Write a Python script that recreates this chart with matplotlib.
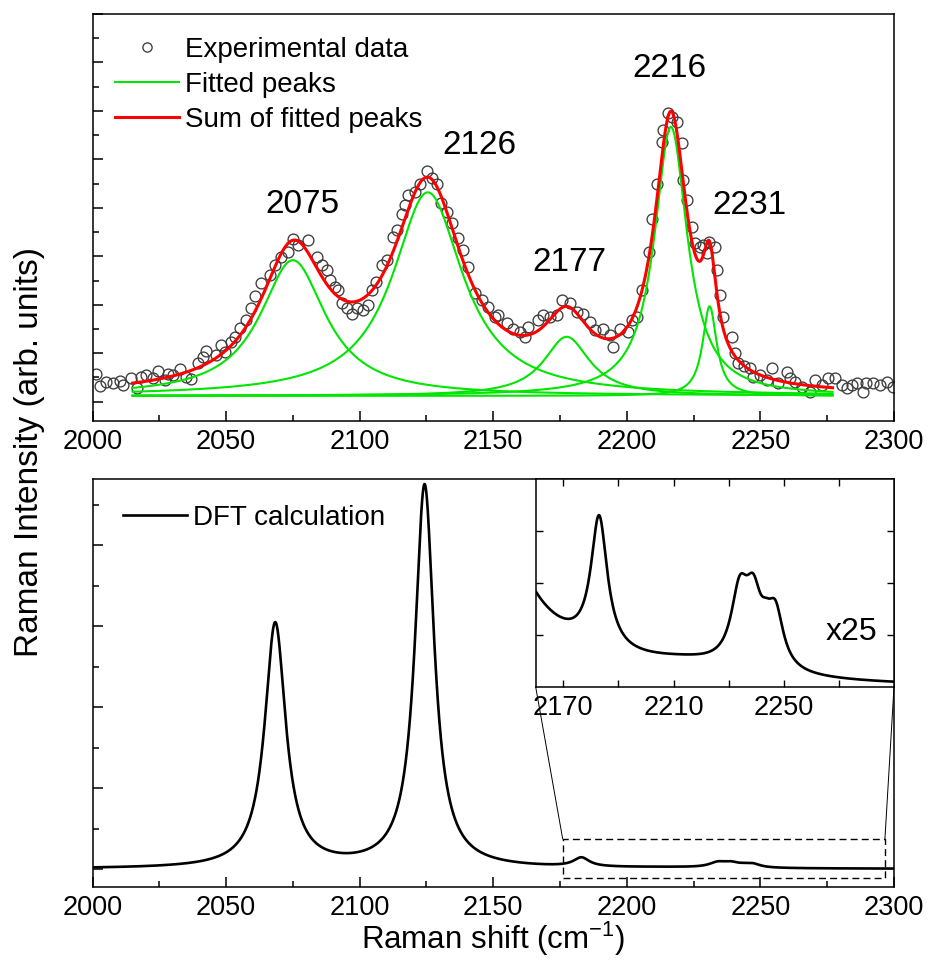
import numpy as np
import matplotlib
matplotlib.use("Agg")
import matplotlib.pyplot as plt
from matplotlib.ticker import MultipleLocator, NullFormatter, FixedLocator
from matplotlib.patches import ConnectionPatch

plt.rcParams['font.family'] = ['Liberation Sans', 'DejaVu Sans']
plt.rcParams['mathtext.fontset'] = 'custom'
plt.rcParams['mathtext.rm'] = 'Liberation Sans'
plt.rcParams['mathtext.it'] = 'Liberation Sans:italic'
plt.rcParams['axes.linewidth'] = 1.1

# ---------------- data: experimental spectrum (top panel) ----------------
exp_shift = [2001.4, 2002.7, 2005.2, 2007.7, 2010.2, 2011.4, 2014.5, 2016.8, 2018.3, 2020.1,
             2022.6, 2024.5, 2027.0, 2028.3, 2030.1, 2032.6, 2035.1, 2037.0, 2039.5, 2041.4,
             2042.6, 2046.3, 2048.2, 2049.5, 2051.9, 2053.2, 2055.1, 2057.6, 2059.4, 2060.7,
             2063.2, 2066.3, 2068.2, 2070.7, 2073.2, 2075.0, 2077.0, 2080.8, 2083.9, 2085.8,
             2087.6, 2088.9, 2090.8, 2092.0, 2093.3, 2095.1, 2097.0, 2098.9, 2101.3, 2103.2,
             2104.5, 2106.3, 2108.2, 2110.1, 2112.6, 2113.8, 2115.7, 2117.0, 2118.2, 2120.7,
             2122.6, 2125.1, 2127.0, 2128.8, 2130.5, 2132.6, 2134.4, 2136.9, 2138.8, 2140.6,
             2143.2, 2145.7, 2148.1, 2150.6, 2151.9, 2155.0, 2157.5, 2160.0, 2161.9, 2163.1,
             2166.8, 2168.7, 2171.2, 2173.7, 2175.6, 2178.7, 2181.2, 2183.7, 2186.2, 2188.0,
             2191.2, 2193.7, 2194.9, 2197.4, 2200.5, 2201.8, 2203.7, 2205.5, 2208.3, 2209.3,
             2211.2, 2213.0, 2213.6, 2215.3, 2216.8, 2218.6, 2220.5, 2221.1, 2222.4, 2224.3,
             2225.5, 2227.4, 2228.6, 2229.9, 2230.8, 2233.0, 2233.6, 2234.9, 2236.1, 2239.2,
             2240.5, 2241.7, 2244.0, 2246.1, 2247.3, 2249.8, 2252.3, 2254.2, 2256.7, 2259.8,
             2261.0, 2262.9, 2265.4, 2268.5, 2270.4, 2272.9, 2275.4, 2277.9, 2280.4, 2282.3,
             2284.1, 2286.0, 2288.5, 2289.7, 2292.2, 2294.7, 2297.2, 2299.5]
exp_intensity = [0.57, 0.32, 0.41, 0.38, 0.43, 0.34, 0.48, 0.28, 0.52, 0.56,
                 0.48, 0.64, 0.45, 0.58, 0.55, 0.67, 0.52, 0.46, 0.79, 0.93,
                 1.05, 0.96, 1.17, 1.03, 1.24, 1.34, 1.53, 1.68, 1.93, 2.18,
                 2.44, 2.61, 2.82, 2.99, 3.09, 3.35, 3.23, 3.33, 2.98, 2.82,
                 2.72, 2.51, 2.37, 2.30, 2.03, 1.93, 1.82, 1.93, 1.89, 1.99,
                 2.30, 2.47, 2.82, 2.92, 3.39, 3.54, 3.88, 4.06, 4.26, 4.33,
                 4.50, 4.76, 4.61, 4.50, 4.09, 3.92, 3.68, 3.37, 3.13, 2.78,
                 2.24, 2.10, 1.96, 1.75, 1.79, 1.62, 1.51, 1.44, 1.34, 1.55,
                 1.68, 1.79, 1.75, 1.79, 2.10, 2.03, 1.86, 1.82, 1.65, 1.48,
                 1.51, 1.38, 1.13, 1.51, 1.44, 1.68, 1.75, 2.30, 3.09, 3.78,
                 4.50, 5.36, 5.60, 5.96, 5.88, 5.77, 5.33, 4.57, 4.16, 3.61,
                 3.27, 3.20, 3.23, 3.06, 3.30, 3.20, 2.72, 2.20, 1.75, 1.34,
                 1.00, 0.79, 0.74, 0.69, 0.52, 0.55, 0.45, 0.69, 0.38, 0.62,
                 0.48, 0.41, 0.31, 0.21, 0.45, 0.34, 0.48, 0.48, 0.34, 0.28,
                 0.34, 0.38, 0.21, 0.38, 0.38, 0.34, 0.41, 0.31]

# fitted Lorentzian peaks (centre, height, half width) and constant background
fit_centers = [2075.0, 2125.5, 2177.5, 2216.5, 2231.0]
fit_heights = [2.80, 4.20, 1.22, 5.55, 1.85]
fit_hwhm = [15.0, 16.0, 10.5, 7.5, 3.2]
fit_background = 0.12
fit_start, fit_end = 2015.0, 2277.0
peak_labels = ["2075", "2126", "2177", "2216", "2231"]
peak_label_x = [2078.6, 2145.0, 2178.4, 2215.8, 2246.0]
peak_label_y = [3.90, 5.12, 2.70, 6.69, 3.88]

# DFT calculated spectrum: Lorentzian-broadened lines (centre, height, half width)
dft_centers = [2068.4, 2124.3, 2183.0, 2215.0, 2234.0, 2239.0, 2243.5, 2247.0]
dft_heights = [3.02, 4.73, 0.110, 0.010, 0.058, 0.050, 0.014, 0.045]
dft_hwhm = [4.75, 4.35, 3.6, 25.0, 3.8, 3.5, 2.5, 3.5]
inset_factor = 25
zoom_box_x = (2176.0, 2296.6)
zoom_box_y = (-0.107, 0.37)

x_ticks = [2000, 2050, 2100, 2150, 2200, 2250, 2300]
inset_ticks = [2170, 2210, 2250]


def lorentz(x, c, h, w):
    return h / (1.0 + ((x - c) / w) ** 2)


GREEN = '#00e600'
RED = '#ff0000'

fig = plt.figure(figsize=(9.3, 9.6), dpi=100)
W, H = 930.0, 960.0


def rect(l, t, r, b):
    return [l / W, 1 - b / H, (r - l) / W, (b - t) / H]


ax1 = fig.add_axes(rect(92.5, 14, 894, 421))
ax2 = fig.add_axes(rect(92.5, 479, 894, 887))
ax3 = fig.add_axes(rect(535.7, 479, 894, 687))

# ---------------- top panel ----------------
xf = np.linspace(fit_start, fit_end, 1500)
ax1.plot(exp_shift, exp_intensity, 'o', ms=7.8, mfc='none', mec='#3c3c3c', mew=0.95,
         label='Experimental data', zorder=2)
total = np.full_like(xf, fit_background)
for i, (c, h, w) in enumerate(zip(fit_centers, fit_heights, fit_hwhm)):
    yy = lorentz(xf, c, h, w)
    total += yy
    ax1.plot(xf, yy + fit_background, color=GREEN, lw=1.5, zorder=3,
             label='Fitted peaks' if i == 0 else None)
ax1.plot(xf, total, color=RED, lw=2.2, zorder=4, label='Sum of fitted peaks')
for t, x, y in zip(peak_labels, peak_label_x, peak_label_y):
    ax1.text(x, y, t, fontsize=24, ha='center', va='baseline')

ax1.set_xlim(2000, 2300)
ax1.set_ylim(-0.398, 8.0)
ax1.xaxis.set_major_locator(FixedLocator(x_ticks))
ax1.xaxis.set_minor_locator(MultipleLocator(25))
ax1.yaxis.set_major_locator(MultipleLocator(1))
ax1.yaxis.set_minor_locator(MultipleLocator(0.5))
ax1.yaxis.set_major_formatter(NullFormatter())
ax1.legend(loc='upper left', bbox_to_anchor=(0.028, 0.943), frameon=False, fontsize=20,
           handlelength=2.3, handletextpad=0.23, labelspacing=0.32, borderpad=0,
           borderaxespad=0, numpoints=1, markerscale=0.85)

# ---------------- bottom panel ----------------
xd = np.linspace(2000, 2300, 6001)
dft = np.zeros_like(xd)
for c, h, w in zip(dft_centers, dft_heights, dft_hwhm):
    dft += lorentz(xd, c, h, w)
ax2.plot(xd, dft, color='black', lw=1.9, label='DFT calculation')
ax2.set_xlim(2000, 2300)
ax2.set_ylim(-0.222, 4.815)
ax2.xaxis.set_major_locator(FixedLocator(x_ticks))
ax2.xaxis.set_minor_locator(MultipleLocator(25))
ax2.yaxis.set_major_locator(MultipleLocator(1))
ax2.yaxis.set_minor_locator(MultipleLocator(0.5))
ax2.yaxis.set_major_formatter(NullFormatter())
ax2.legend(loc='upper left', bbox_to_anchor=(0.0377, 0.936), frameon=False, fontsize=20,
           handlelength=2.3, handletextpad=0.23, borderpad=0, borderaxespad=0)

# zoom rectangle
bx0, bx1 = zoom_box_x
by0, by1 = zoom_box_y
ax2.plot([bx0, bx1, bx1, bx0, bx0], [by0, by0, by1, by1, by0], color='black', lw=1.0,
         ls=(0, (5, 3)))

for ax in (ax1, ax2):
    ax.tick_params(which='both', direction='in', top=False, right=False,
                   labelsize=19.5, pad=6, width=1.1)
    ax.tick_params(which='major', length=7)
    ax.tick_params(which='minor', length=4)

# ---------------- inset ----------------
xi = np.linspace(2160, 2290, 2000)
dfi = np.zeros_like(xi)
for c, h, w in zip(dft_centers, dft_heights, dft_hwhm):
    dfi += lorentz(xi, c, h, w)
ax3.plot(xi, inset_factor * dfi, color='black', lw=1.9)
ax3.set_xlim(2160, 2290)
ylo, yhi = 0.054, 4.39
ax3.set_ylim(ylo, yhi)
ax3.xaxis.set_major_locator(FixedLocator(inset_ticks))
ax3.xaxis.set_minor_locator(FixedLocator([2190, 2230, 2270]))
ax3.yaxis.set_major_locator(FixedLocator(np.linspace(ylo, yhi, 5)[1:-1]))
ax3.yaxis.set_major_formatter(NullFormatter())
ax3.tick_params(which='both', direction='in', top=True, right=True, left=True, bottom=True,
                length=5, width=1.0, labelsize=19.5, pad=6)
ax3.text(2274.5, 1.03, 'x25', fontsize=23, ha='center', va='baseline')

# connector lines between zoom box and inset
for (xa, ya), (xb, yb) in [((bx0, by1), (2160, ylo)), ((bx1, by1), (2290, ylo))]:
    con = ConnectionPatch(xyA=(xa, ya), coordsA=ax2.transData,
                          xyB=(xb, yb), coordsB=ax3.transData,
                          color='black', lw=0.7)
    fig.add_artist(con)

fig.text(0.032, 0.529, 'Raman Intensity (arb. units)', rotation=90, fontsize=24,
         ha='center', va='center')
fig.text(493.3 / W, 1 - 949.5 / H, 'Raman shift (cm$^{-1}$)', fontsize=22.5,
         ha='center', va='baseline')

fig.savefig('out.png', dpi=100)
